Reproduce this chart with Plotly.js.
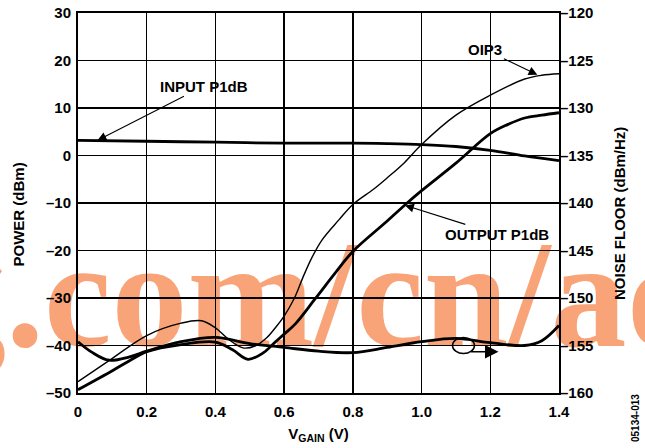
<!DOCTYPE html>
<html>
<head>
<meta charset="utf-8">
<script src="https://cdn.plot.ly/plotly-3.0.1.min.js"></script>
<style>
  html, body { margin: 0; padding: 0; background: #fff; }
  #chart { width: 645px; height: 448px; }
</style>
</head>
<body>
<div id="chart"></div>
<script>
// values, left axis in dBm
var inputX = [0, 0.2, 0.4, 0.6, 0.8, 0.9, 1.0, 1.1, 1.2, 1.3, 1.4];
var inputP1dB = [3.2, 3.0, 2.8, 2.6, 2.6, 2.5, 2.3, 1.9, 1.1, -0.1, -1.1];

var oip3X = [0, 0.1, 0.2, 0.3, 0.36, 0.4, 0.44, 0.48, 0.515, 0.55, 0.575, 0.6, 0.63, 0.655, 0.68, 0.71, 0.76, 0.8, 0.86, 0.9, 0.95, 1.0, 1.1, 1.2, 1.3, 1.35, 1.4];
var oip3 = [-47.6, -42.7, -37.9, -35.3, -34.8, -36.3, -38.8, -40.5, -40.1, -38.3, -36.2, -33.8, -30, -25.6, -21.6, -17.8, -13.5, -10.3, -7.1, -4.7, -1.5, 2.3, 8.5, 12.7, 16.1, 16.9, 17.2];

var outX = [0, 0.1, 0.15, 0.2, 0.3, 0.4, 0.45, 0.495, 0.54, 0.575, 0.6, 0.632, 0.69, 0.75, 0.8, 0.9, 0.958, 1.0, 1.1, 1.2, 1.25, 1.3, 1.35, 1.4];
var outP1dB = [-49.3, -45.3, -43.2, -41.3, -39.8, -39.3, -40.9, -42.9, -41.5, -39.2, -37.6, -35.5, -30.2, -24.6, -20.2, -13.8, -10, -7.4, -1.6, 4.6, 6.5, 7.9, 8.5, 9.0];

// noise floor, right axis in dBm/Hz
var noiseX = [0, 0.04, 0.09, 0.15, 0.2, 0.3, 0.4, 0.5, 0.6, 0.7, 0.8, 0.9, 1.0, 1.1, 1.2, 1.3, 1.35, 1.4];
var noiseFloor = [-154.6, -155.7, -156.55, -156.2, -155.6, -154.6, -154.15, -154.8, -155.2, -155.6, -155.75, -155.2, -154.6, -154.25, -154.7, -155.0, -154.5, -152.9];

var xTicks = [0, 0.2, 0.4, 0.6, 0.8, 1.0, 1.2, 1.4];
var xTickText = ['0', '0.2', '0.4', '0.6', '0.8', '1.0', '1.2', '1.4'];
var yTicks = [-50, -40, -30, -20, -10, 0, 10, 20, 30];
var yTickText = ['\u201350', '\u201340', '\u201330', '\u201320', '\u201310', '0', '10', '20', '30'];
var y2Ticks = [-160, -155, -150, -145, -140, -135, -130, -125, -120];
var y2TickText = ['\u2013160', '\u2013155', '\u2013150', '\u2013145', '\u2013140', '\u2013135', '\u2013130', '\u2013125', '\u2013120'];

var bold = {family: 'Liberation Sans, Arial, sans-serif', size: 15, color: '#000', weight: 'bold'};

var thick = {color: '#000', width: 2.8, shape: 'spline', smoothing: 1};
var thin = {color: '#000', width: 1.4, shape: 'spline', smoothing: 1};

var data = [
  {x: inputX, y: inputP1dB, type: 'scatter', mode: 'lines', line: thick, name: 'INPUT P1dB'},
  {x: oip3X, y: oip3, type: 'scatter', mode: 'lines', line: thin, name: 'OIP3'},
  {x: outX, y: outP1dB, type: 'scatter', mode: 'lines', line: thick, name: 'OUTPUT P1dB'},
  {x: noiseX, y: noiseFloor, type: 'scatter', mode: 'lines', line: thick, yaxis: 'y2', name: 'NOISE FLOOR'}
];

// pixel helpers for paper placement (plot area 78..559 x 13..393)
function px(v) { return (v - 78) / 481; }
function py(v) { return 1 - (v - 13) / 380; }

var arrowOpts = {showarrow: true, arrowhead: 2, arrowsize: 1.6, arrowwidth: 1.1, arrowcolor: '#000'};

var layout = {
  width: 645,
  height: 448,
  showlegend: false,
  paper_bgcolor: '#fff',
  plot_bgcolor: 'rgba(0,0,0,0)',
  margin: {t: 13, l: 78, r: 86, b: 55},
  font: bold,
  xaxis: {
    range: [0, 1.4],
    tickvals: xTicks, ticktext: xTickText,
    ticks: '', ticklabelstandoff: 4,
    showgrid: true, gridcolor: '#000', gridwidth: 1.3,
    showline: true, linecolor: '#000', linewidth: 2, mirror: true,
    zeroline: false,
    tickfont: bold,
    title: {text: 'V<sub>GAIN</sub> (V)', font: bold, standoff: 9}
  },
  yaxis: {
    range: [-50, 30],
    tickvals: yTicks, ticktext: yTickText,
    ticks: '', ticklabelstandoff: 2,
    showgrid: true, gridcolor: '#000', gridwidth: 1.3,
    showline: true, linecolor: '#000', linewidth: 2, mirror: true,
    zeroline: false,
    tickfont: bold
  },
  yaxis2: {
    range: [-160, -120],
    overlaying: 'y', side: 'right',
    tickvals: y2Ticks, ticktext: y2TickText,
    ticks: '', ticklabelstandoff: 0,
    showgrid: false, zeroline: false, showline: false,
    tickfont: bold
  },
  shapes: [
    // watermark, kept under the grid and curves
    {type: 'rect', layer: 'below', xref: 'paper', yref: 'paper',
     x0: px(-73), x1: px(700), y0: py(378), y1: py(178),
     line: {width: 0}, fillcolor: 'rgba(0,0,0,0)',
     label: {text: 'g.com/cn/ad', textposition: 'middle left', padding: 0,
             font: {family: 'Liberation Serif, Times New Roman, serif', size: 152, weight: 'bold', color: '#F9A478'}}},
    {type: 'circle', xref: 'x', yref: 'y', x0: 1.09, x1: 1.154, y0: -41.7, y1: -38.3,
     line: {color: '#000', width: 1.5}}
  ],
  annotations: [
    // axis titles
    {xref: 'paper', yref: 'paper', x: px(17.5), y: py(215), xanchor: 'center', yanchor: 'middle',
     textangle: -90, text: 'POWER (dBm)', showarrow: false, font: bold},
    {xref: 'paper', yref: 'paper', x: px(619), y: py(214), xanchor: 'center', yanchor: 'middle',
     textangle: -90, text: 'NOISE FLOOR (dBm/Hz)', showarrow: false, font: bold},
    {xref: 'paper', yref: 'paper', x: px(635), y: py(418), xanchor: 'center', yanchor: 'middle',
     textangle: -90, text: '05134-013', showarrow: false,
     font: {family: 'Liberation Sans, Arial, sans-serif', size: 10, color: '#000'}},
    // curve labels
    Object.assign({x: 0.057, y: 3.2, ax: 106, ay: -54, text: 'INPUT P1dB', font: bold}, arrowOpts),
    Object.assign({x: 1.337, y: 17, ax: -52, ay: -25, text: 'OIP3', font: bold}, arrowOpts),
    Object.assign({x: 0.952, y: -10.5, ax: 92, ay: 29, text: 'OUTPUT P1dB', font: bold}, arrowOpts),
    // arrow from the circled curve toward the right axis
    {x: 1.224, y: -41.3, ax: -31, ay: 0, text: ' ', showarrow: true,
     arrowhead: 2, arrowsize: 1.8, arrowwidth: 1.5, arrowcolor: '#000'}
  ]
};

Plotly.newPlot('chart', data, layout, {displayModeBar: false, staticPlot: true});
</script>
</body>
</html>
